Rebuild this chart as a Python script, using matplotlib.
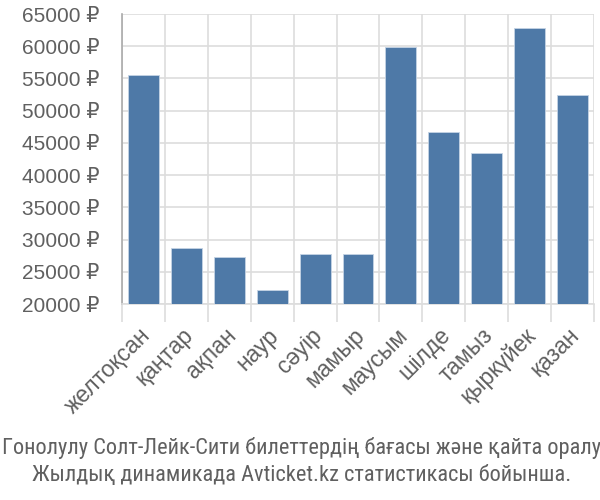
import matplotlib
matplotlib.use("Agg")
import matplotlib.pyplot as plt
import matplotlib.transforms as mtransforms
import numpy as np

# Data
months = ["желтоқсан", "қаңтар", "ақпан", "наур", "сәуір", "мамыр",
          "маусым", "шілде", "тамыз", "қыркүйек", "қазан"]
prices = [55600, 28650, 27250, 22200, 27700, 27700,
          59900, 46750, 43500, 62800, 52450]
y_ticks = list(range(20000, 65001, 5000))

caption = ("Гонолулу Солт-Лейк-Сити билеттердің бағасы және қайта оралу\n"
           "Жылдық динамикада Avticket.kz статистикасы бойынша.")

plt.rcParams['font.family'] = ['Liberation Sans', 'DejaVu Sans']

fig = plt.figure(figsize=(6, 5), dpi=100)
ax = fig.add_axes([0.2033, 0.392, 0.7867, 0.58])

x = np.arange(len(months))
ax.bar(x, [p - 20000 for p in prices], bottom=20000, width=0.72,
       color="#4e79a7", edgecolor="#c5d3e4", linewidth=0.6, zorder=3)

ax.set_xlim(-0.5, len(months) - 0.5)
ax.set_ylim(20000, 65000)

ax.set_yticks(y_ticks)
ax.set_yticklabels([f"{v} ₽" for v in y_ticks], fontsize=15, color="#606060")
ax.tick_params(axis='y', length=0, pad=16)

# category boundaries as gridlines / ticks
ax.set_xticks(x)
ax.set_xticklabels(months, rotation=45, ha='right', va='top',
                   rotation_mode='anchor', fontsize=16.5, color="#606060")
ax.set_xticks(np.arange(-0.5, len(months)), minor=True)
ax.tick_params(axis='x', which='major', length=0, pad=14)
ax.tick_params(axis='x', which='minor', length=13, color="#dddddd", width=1.2)

# nudge the rotated labels a little to the left
shift = mtransforms.ScaledTranslation(-5 / 100, 0, fig.dpi_scale_trans)
for lab in ax.get_xticklabels():
    lab.set_transform(lab.get_transform() + shift)

ax.grid(True, axis='y', color="#dddddd", linewidth=1.2, zorder=0)
ax.grid(True, axis='x', which='minor', color="#dddddd", linewidth=1.2, zorder=0)

for side in ['top', 'right']:
    ax.spines[side].set_visible(False)
ax.spines['bottom'].set_color("#dddddd")
ax.spines['bottom'].set_linewidth(1.2)
ax.spines['left'].set_color("#aaaaaa")
ax.spines['left'].set_linewidth(1.2)

fig.text(0.503, 0.077, caption, ha='center', va='center', fontsize=16.1,
         color="#606060", linespacing=1.4, fontstretch='condensed',
         family=['Liberation Sans Narrow', 'DejaVu Sans Condensed',
                 'Roboto Condensed', 'Liberation Sans', 'DejaVu Sans'])

fig.savefig("out.png", dpi=100)
